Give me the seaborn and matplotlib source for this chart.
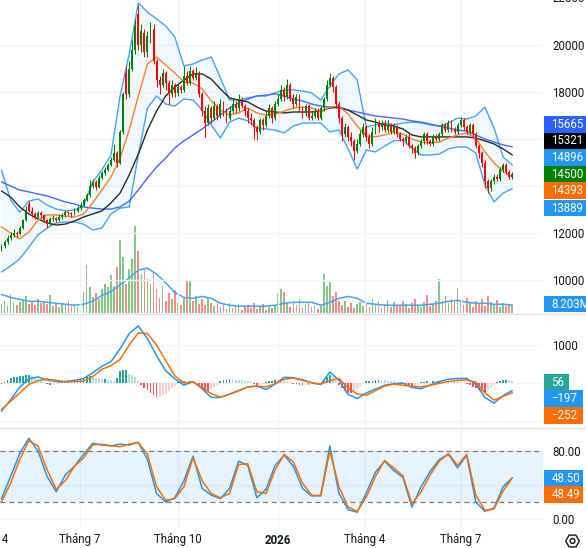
import numpy as np
import matplotlib
matplotlib.use("Agg")
import matplotlib.pyplot as plt
import seaborn as sns
from matplotlib.patches import Rectangle, RegularPolygon, Circle
from matplotlib.transforms import IdentityTransform, blended_transform_factory

# ---------------- data (sessions, 2-day candles) ----------------
opens = [11300,11450,11600,11800,11900,12000,11950,12200,12550,13250,
         12950,12800,12700,12850,12750,12550,12400,12600,12650,12550,
         12700,12750,12900,12850,12800,12950,13050,13200,13400,13600,
         14000,14150,13950,14350,14550,14700,14900,15100,15400,15000,
         16300,18800,17900,19000,19800,21300,20000,20500,19700,20300,
         20700,19300,18500,18300,18800,18400,17900,18300,17950,18200,
         18100,18700,18400,18900,18600,18800,17900,17200,16700,17300,
         16900,17400,17000,17500,17200,16900,17200,17500,17300,17600,
         17400,17200,16900,16800,16500,16300,16800,16600,17000,17300,
         16900,17500,17700,18100,17800,18300,17700,17500,17800,17300,
         17100,17400,16900,17000,17200,16900,17300,17700,18300,18600,
         18200,17500,16900,16200,16500,16100,15900,15500,15800,16200,
         16500,16100,15800,16300,16700,16500,16700,16400,16600,16300,
         16500,16200,16000,15900,16100,15700,15600,15400,15700,15900,
         16200,15900,15800,16100,16000,16200,16600,16400,16700,16400,
         16300,16600,16800,16500,16300,16600,16200,15700,15400,15000,
         14200,13900,14200,14400,14300,14700,14900,14600,14400]
closes = [11450,11600,11800,11900,12000,11950,12200,12550,13000,12950,
          12800,12700,12850,12750,12550,12400,12600,12650,12550,12700,
          12750,12900,12850,12800,12950,13050,13200,13400,13600,14000,
          14150,13950,14350,14550,14700,14900,15100,15400,15000,16300,
          17900,17900,19000,19800,20800,20000,20600,19700,20400,20800,
          19300,18500,18300,18800,18400,17900,18300,17950,18200,18100,
          18700,18400,18900,18600,18800,17900,17200,16700,17300,16900,
          17400,17000,17500,17200,16900,17200,17500,17300,17600,17400,
          17200,16900,16800,16500,16300,16800,16600,17000,17300,16900,
          17500,17700,18100,17800,18300,17700,17500,17800,17300,17100,
          17400,16900,17000,17200,16900,17300,17700,18300,18600,18200,
          17500,16900,16200,16500,16100,15900,15500,15800,16200,16500,
          16100,15800,16300,16700,16500,16700,16400,16600,16300,16500,
          16200,16000,15900,16100,15700,15600,15400,15700,15900,16200,
          15900,15800,16100,16000,16200,16600,16400,16700,16400,16300,
          16600,16800,16500,16300,16600,16200,15700,15400,15000,14200,
          13900,14200,14400,14300,14700,14900,14600,14400,14500]
highs = [11550,11700,11900,12050,12150,12100,12300,12600,13150,13350,
         13100,12900,12950,12950,12800,12600,12700,12750,12700,12800,
         12850,13000,12950,12900,13050,13150,13300,13500,13700,14250,
         14300,14250,14450,14650,14800,15000,15250,15800,15500,16400,
         18000,19100,19300,20200,21100,21700,20900,20700,20600,21000,
         20900,19400,18700,19000,18900,18500,18500,18400,18350,18300,
         19100,18900,19100,19000,19050,18900,18000,17400,17500,17400,
         17600,17500,17700,17600,17300,17400,17700,17600,17900,17800,
         17500,17300,17100,16900,16600,16900,16900,17200,17500,17400,
         17600,17900,18300,18200,18550,18400,17900,17900,17900,17400,
         17500,17500,17200,17300,17300,17400,17800,18500,18800,18700,
         18300,17600,17000,16700,16600,16300,16000,16000,16400,16700,
         16600,16200,16500,16900,16800,16800,16800,16800,16700,16700,
         16600,16300,16100,16200,16200,15800,15700,15800,16000,16300,
         16300,16000,16200,16200,16300,16700,16700,16800,16800,16500,
         16700,16950,16900,16600,16700,16700,16300,15800,15500,15100,
         14300,14300,14500,14500,14800,15000,15000,14700,14600]
lows = [11250,11350,11550,11700,11850,11850,11900,12150,12500,12900,
        12700,12600,12650,12650,12450,12200,12350,12500,12450,12500,
        12600,12700,12750,12700,12750,12900,13000,13150,13350,13550,
        13900,13850,13900,14300,14450,14650,14850,15050,14800,14950,
        16200,17700,17800,18900,19600,19800,19700,19500,19500,20100,
        19200,18200,17900,18200,18100,17500,17800,17800,17850,17950,
        18000,18300,18300,18500,18500,17800,17000,16100,16600,16700,
        16800,16800,16900,17000,16700,16800,17100,17100,17200,17300,
        17000,16700,16600,16000,15950,16200,16400,16500,16900,16700,
        16800,17400,17600,17600,17700,17600,17300,17400,17200,16900,
        17000,16800,16800,16900,16800,16800,17200,17600,18200,18000,
        17300,16700,15900,16100,15900,15700,15100,15400,15700,16100,
        15900,15600,15700,16200,16300,16400,16300,16300,16200,16200,
        16100,15900,15700,15800,15600,15400,15200,15300,15600,15800,
        15800,15700,15700,15900,15900,16100,16300,16300,16300,16200,
        16200,16500,16400,16200,16200,16100,15600,15200,14800,13900,
        13700,13800,14100,14200,14200,14600,14500,14300,14300]
volumes = [9,12,7,19,10,8,11,
           13,17,9,11,8,14,10,12,9,
           18,7,9,6,10,8,12,7,9,6,11,
           22,49,27,16,20,14,
           25,30,27,39,28,47,
           75,
           57,30,45,
           55,89,64,
           40,44,35,30,42,
           25,15,28,12,20,
           14,24,10,8,16,34,33,
           12,17,9,14,8,16,10,7,12,
           6,8,4,10,5,7,9,3,6,8,5,10,4,7,9,3,6,
           5,8,20,25,
           22,10,6,12,8,14,5,9,11,6,8,4,7,
           40,28,32,
           17,22,12,
           8,12,6,10,5,9,11,7,
           10,6,14,8,12,5,9,13,6,11,8,7,12,9,5,10,14,8,6,11,18,7,9,12,
           35,
           12,17,10,14,11,
           26,
           13,8,15,10,6,12,9,14,7,17,11,8,13,6,10,7,9,8]
macd_hist = [-20,20,90,120,150,160,175,190,210,220,
             180,140,110,70,30,-30,-50,-40,-20,20,
             40,50,60,70,80,90,110,130,160,175,
             170,140,120,100,110,90,80,60,120,310,
             340,350,250,200,150,60,-50,-120,-180,-250,
             -320,-380,-360,-320,-280,-220,-140,-70,20,40,
             50,30,40,20,-30,-90,-150,-200,-220,-170,
             -110,-50,40,70,90,105,100,90,80,70,
             60,40,20,-30,-40,-30,-20,30,50,60,
             70,60,50,40,30,20,-20,-30,-40,-50,
             -40,-50,-30,-20,-30,-20,40,150,220,160,
             60,-60,-140,-200,-250,-260,-220,-160,-100,-30,
             40,50,60,70,80,75,70,60,50,40,
             30,20,-20,-40,-60,-80,-70,-40,20,30,
             40,30,50,40,50,40,30,30,20,30,
             30,20,10,-30,-60,-100,-140,-180,-220,-230,
             -180,-120,-60,20,50,70,80,70,56]

# indicator readings, one every 3 sessions
bb_upper = [14680,13410,12890,13360,13450,13190,13020,12940,12980,13150,
            14170,14680,15320,17830,19620,21790,21400,21110,20810,20340,
            19110,19190,19360,19490,18600,17660,17660,17750,17830,17830,
            17960,18090,18090,18040,17960,17660,18260,18770,18940,18510,
            16510,16600,16680,16600,16680,16720,16680,16600,16550,16680,
            16890,16850,16980,17360,16470,15230,14896]
bb_lower = [10340,10600,10900,11400,11920,12210,12430,12470,12470,12380,
            12130,12210,12810,13060,13110,15320,17320,17830,17490,17400,
            17700,17660,17230,16600,16040,16720,16890,16770,16470,16430,
            16380,16260,16550,16680,16680,16680,16300,16380,15580,14720,
            15530,15450,15700,15920,15960,15620,15320,15320,15360,15580,
            15660,15660,15400,14040,13320,13700,13889]
bb_basis = [12260,12000,11750,12040,12550,12770,12770,12720,12680,12810,
            13280,13830,14380,15190,16380,17830,19190,19490,19150,18810,
            18430,18380,18130,17620,17230,17020,17110,17320,17110,17020,
            17060,17190,17320,17360,17320,17150,17360,17400,17060,16550,
            16130,16090,16170,16300,16210,16000,15870,15830,15870,16040,
            16170,16260,16040,15450,14980,14600,14393]
ma_black = [13790,13530,13110,12810,12600,12430,12340,12380,12510,12680,
            12810,12940,13280,13700,14470,15360,16380,17190,17830,18210,
            18510,18770,18770,18550,18130,17750,17660,17580,17360,17190,
            17150,17110,17150,17150,17150,17190,17320,17360,17230,17020,
            16810,16720,16600,16550,16430,16170,16090,16090,16090,16090,
            16090,16090,16040,15920,15790,15580,15321]
ma_blue = [14170,14000,13830,13750,13660,13580,13450,13320,13240,13110,
           13060,13020,13020,13110,13360,13830,14340,14810,15190,15620,
           15920,16170,16430,16720,17020,17320,17530,17700,17830,17870,
           17920,17830,17700,17620,17490,17400,17360,17320,17230,17150,
           17060,16980,16940,16890,16850,16770,16720,16640,16550,16470,
           16380,16340,16170,16000,15870,15750,15665]
vol_ma = [19,16,14,12,12,11,10,9,8,9,
          12,18,22,29,36,44,46,40,31,21,
          16,15,17,15,10,8,7,7,7,7,
          8,10,11,11,11,8,11,15,17,15,
          10,9,8,8,8,8,8,9,10,12,
          13,11,10,10,9,9,8.203]
macd_line = [-740,-440,-110,110,160,80,40,40,70,120,
             270,440,560,900,1300,1500,1170,720,320,110,
             -60,40,-150,-380,-380,-290,-200,-100,-80,-170,
             -30,150,140,90,0,-40,290,70,-300,-410,
             -260,-160,-60,-20,0,-120,-150,-50,40,100,
             120,120,-30,-380,-530,-330,-197]
macd_signal = [-700,-480,-260,-40,60,100,70,30,40,50,
               170,360,460,620,1000,1320,1300,1000,590,190,
               0,30,-120,-280,-370,-300,-200,-110,-80,-100,
               -20,100,130,70,10,-30,60,120,-130,-290,
               -320,-200,-80,-30,-60,-90,-100,-60,-10,40,
               70,80,20,-260,-450,-350,-252]
stoch_k = [24,50,77,95,80,50,32,52,62,76,
           89,87,86,88,87,90,70,30,20,25,
           45,74,36,28,24,36,68,63,25,35,
           63,75,62,36,27,28,86,30,11,8,
           31,55,68,57,49,14,38,56,70,76,
           60,75,20,9,13,38,48.50]
stoch_d = [20,42,70,92,86,58,35,45,62,72,
           87,88,86,85,88,90,76,38,22,24,
           38,72,45,30,25,30,64,65,32,30,
           58,76,67,42,28,27,80,38,14,9,
           26,50,69,60,51,18,32,52,68,77,
           63,76,28,10,12,33,48.49]

month_labels = ["Tháng 4", "Tháng 7", "Tháng 10", "2026", "Tháng 4", "Tháng 7"]
month_pos = [-4.4, 25.8, 58.1, 91.0, 119.6, 151.1]
price_grid = [10000, 12000, 14000, 16000, 18000, 20000]
price_labels = [10000, 12000, 18000, 20000]      # others sit behind value boxes
macd_grid = [-1000, 0, 1000]
macd_labels = [1000]
stoch_grid = [0, 40, 80]
stoch_labels = [0, 80]

# ---------------- style ----------------
sns.set_theme(style="white")
plt.rcParams['font.family'] = ['Roboto', 'DejaVu Sans']
TXT = '#131722'
GRID = '#f0f3fa'
W, H = 586, 548
fig = plt.figure(figsize=(W / 100, H / 100), dpi=100, facecolor='white')

def rect(top, bottom, right=543):
    return [0, 1 - bottom / H, right / W, (bottom - top) / H]

ax_vol = fig.add_axes(rect(0, 313), zorder=0)
ax = fig.add_axes(rect(0, 313), zorder=1)
ax_m = fig.add_axes(rect(314, 427), zorder=1)
ax_s = fig.add_axes(rect(428, 527), zorder=1)
ax.patch.set_alpha(0)

n = len(closes)
xi = np.arange(n)
ind_x = np.arange(0, n, 3)
XLIM = (-0.49, 178.1)
YLIMS = {ax: (8597, 21915), ax_vol: (0, 321), ax_m: (-1157, 1815), ax_s: (-9.4, 107)}

for a in (ax_vol, ax, ax_m, ax_s):
    for s in a.spines.values():
        s.set_visible(False)
    a.set_xticks([])
    a.tick_params(axis='y', left=False, right=False, labelleft=False, labelright=False)

# grid
for a in (ax, ax_m, ax_s):
    for p in month_pos:
        a.axvline(p, color=GRID, lw=1.0, zorder=0)
for v in price_grid:
    ax.axhline(v, color=GRID, lw=1.0, zorder=0)
for v in macd_grid:
    ax_m.axhline(v, color=GRID, lw=1.0, zorder=0)
for v in stoch_grid:
    ax_s.axhline(v, color=GRID, lw=1.0, zorder=0)

# ---------------- volume ----------------
o = np.array(opens); c = np.array(closes); hi = np.array(highs); lo = np.array(lows)
up = c >= o
vcol = np.where(up, '#86c686', '#f78a8a')
ax_vol.bar(xi, volumes, width=0.55, color=vcol, linewidth=0, zorder=2)
sns.lineplot(x=ind_x, y=vol_ma, ax=ax_vol, color='#42a5f5', lw=1.1,
             estimator=None, sort=False, legend=False, zorder=3)

# ---------------- price ----------------
ax.fill_between(ind_x, bb_lower, bb_upper, color='#2196F3', alpha=0.055, lw=0, zorder=1)
for arr, col in ((bb_upper, '#42a5f5'), (bb_lower, '#42a5f5'), (ma_blue, '#3d6cff'),
                 (ma_black, '#2a2a2a'), (bb_basis, '#ff7f27')):
    sns.lineplot(x=ind_x, y=arr, ax=ax, color=col, lw=1.0, estimator=None,
                 sort=False, legend=False, zorder=3)
ccol = np.where(up, '#008000', '#ff0000')
ax.vlines(xi, lo, hi, colors=ccol, lw=0.75, zorder=4)
ax.bar(xi, np.maximum(np.abs(c - o), 25), bottom=np.minimum(o, c), width=0.62,
       color=ccol, linewidth=0, zorder=5)

# ---------------- MACD ----------------
hist = np.array(macd_hist, dtype=float)
prev = np.concatenate([[0.0], hist[:-1]])
hcol = np.where(hist >= 0, np.where(hist >= prev, '#26A69A', '#B2DFDB'),
                np.where(hist < prev, '#FF5252', '#FFCDD2'))
ax_m.bar(xi, hist, width=0.6, color=hcol, linewidth=0, zorder=2)
sns.lineplot(x=ind_x, y=macd_line, ax=ax_m, color='#2196F3', lw=1.1,
             estimator=None, sort=False, legend=False, zorder=3)
sns.lineplot(x=ind_x, y=macd_signal, ax=ax_m, color='#FF6D00', lw=1.1,
             estimator=None, sort=False, legend=False, zorder=4)

# ---------------- Stochastic ----------------
ax_s.axhspan(20, 80, color='#2196F3', alpha=0.1, lw=0, zorder=0)
for v in (20, 80):
    ax_s.axhline(v, color='#787B86', lw=0.9, ls=(0, (4, 3)), zorder=1)
sns.lineplot(x=ind_x, y=stoch_k, ax=ax_s, color='#2196F3', lw=1.1,
             estimator=None, sort=False, legend=False, zorder=3)
sns.lineplot(x=ind_x, y=stoch_d, ax=ax_s, color='#FF6D00', lw=1.1,
             estimator=None, sort=False, legend=False, zorder=4)

# right scale tick labels
FS = 8.3
def right_ticks(a, ticks, labels):
    a.set_yticks(ticks)
    a.set_yticklabels(labels)
    a.tick_params(axis='y', right=True, labelright=True, length=0, pad=6.5,
                  labelsize=FS, labelcolor=TXT)
right_ticks(ax, price_labels, [str(v) for v in price_labels])
right_ticks(ax_m, macd_labels, [str(v) for v in macd_labels])
right_ticks(ax_s, stoch_labels, [f"{v:.2f}" for v in stoch_labels])
for a in (ax_vol, ax, ax_m, ax_s):
    a.set_xlabel(''); a.set_ylabel('')
    a.set_xlim(*XLIM)
    a.set_ylim(*YLIMS[a])

ID = IdentityTransform()
fig.text(552, H + 2, "22000", transform=ID, color=TXT, fontsize=FS, va='center', ha='left')

# panel separators
for yy in (313.5, 427.5):
    fig.add_artist(plt.Line2D([0, W], [H - yy, H - yy], transform=ID, color='#e0e3eb', lw=1.0))

# value boxes
def box(yc, txt, col, right=586, h=16.7):
    fig.add_artist(Rectangle((543.5, H - yc - h / 2), right - 543.5, h, transform=ID,
                             facecolor=col, edgecolor='none', zorder=10))
    fig.text(551.5, H - yc, txt, transform=ID, color='white', fontsize=FS,
             va='center', ha='left', zorder=11)

fmt = lambda v: f"{v:.0f}".replace('-', '\u2212')
box(124.5, fmt(ma_blue[-1]), '#2962FF')
box(141.0, fmt(ma_black[-1]), '#000000')
box(157.5, fmt(bb_upper[-1]), '#2196F3')
box(174.0, fmt(closes[-1]), '#008000' if closes[-1] >= opens[-1] else '#ff0000')
box(190.5, fmt(bb_basis[-1]), '#FF6D00')
box(208.0, fmt(bb_lower[-1]), '#2196F3')
box(304.0, f"{vol_ma[-1]:.3f}M", '#2196F3')
box(382.0, fmt(macd_hist[-1]), '#26A69A', right=569)
box(398.5, fmt(macd_line[-1]), '#2196F3', right=583)
box(415.5, fmt(macd_signal[-1]), '#FF6D00', right=583)
box(478.0, f"{stoch_k[-1]:.2f}", '#2196F3', right=583)
box(494.5, f"{stoch_d[-1]:.2f}", '#FF6D00', right=583)

# time axis labels
tr = blended_transform_factory(ax_s.transData, fig.transFigure)
for p, lab in zip(month_pos, month_labels):
    ax_s.text(p, 1 - 540 / H, lab, transform=tr, ha='center', va='center',
              fontsize=FS, color=TXT, fontweight='bold' if lab.isdigit() else 'normal',
              clip_on=False)

# settings icon
fig.add_artist(RegularPolygon((572.5, H - 541), 6, radius=6.8, orientation=np.pi / 6,
                              transform=ID, facecolor='none', edgecolor=TXT, lw=1.0))
fig.add_artist(Circle((572.5, H - 541), 2.4, transform=ID, facecolor='none',
                      edgecolor=TXT, lw=1.0))

fig.savefig("out.png", dpi=100, facecolor='white')
